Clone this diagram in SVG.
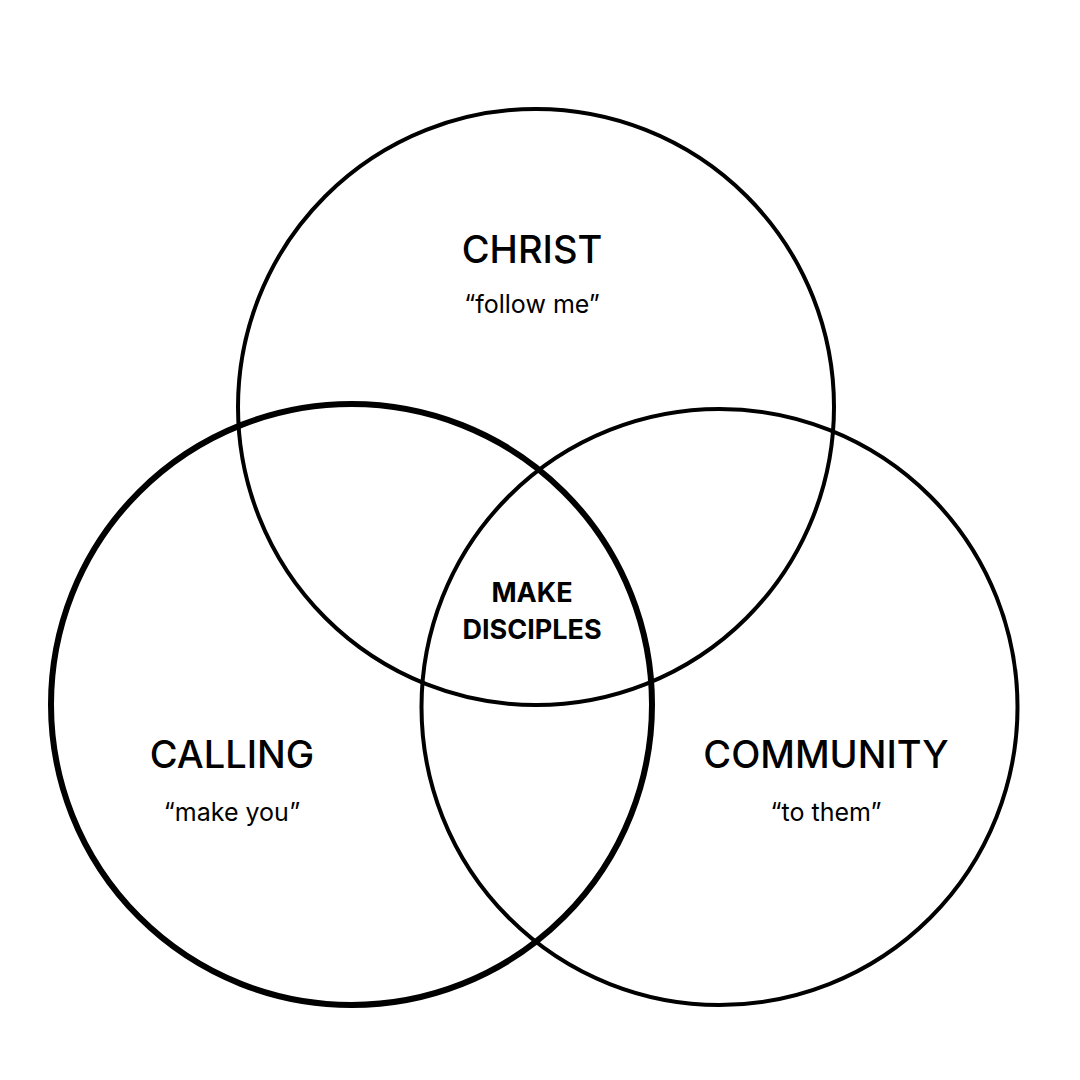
<svg xmlns="http://www.w3.org/2000/svg" width="1080" height="1080" viewBox="0 0 1080 1080">
<style>
.c{fill:none;stroke:#000}
.t{font-family:Inter,"Liberation Sans",sans-serif;fill:#000;text-anchor:middle}
.h{font-size:38px;font-weight:500}
.q{font-size:25px;font-weight:400}
.m{font-size:27px;font-weight:700}
</style>
<rect width="1080" height="1080" fill="#fff"/>
<g id="christ">
<circle class="c" cx="536" cy="407" r="298" stroke-width="4"/>
<text class="t h" x="532" y="263">CHRIST</text>
<text class="t q" x="532" y="313">“follow me”</text>
</g>
<g id="calling">
<circle class="c" cx="351.5" cy="704.5" r="300.5" stroke-width="6"/>
<text class="t h" x="232" y="768">CALLING</text>
<text class="t q" x="232" y="821">“make you”</text>
</g>
<g id="community">
<circle class="c" cx="719.5" cy="707" r="298" stroke-width="4"/>
<text class="t h" x="826" y="768">COMMUNITY</text>
<text class="t q" x="826" y="821">“to them”</text>
</g>
<g id="center">
<text class="t m" x="532" y="602">MAKE</text>
<text class="t m" x="532" y="639">DISCIPLES</text>
</g>
<g id="connectors"></g>
</svg>
